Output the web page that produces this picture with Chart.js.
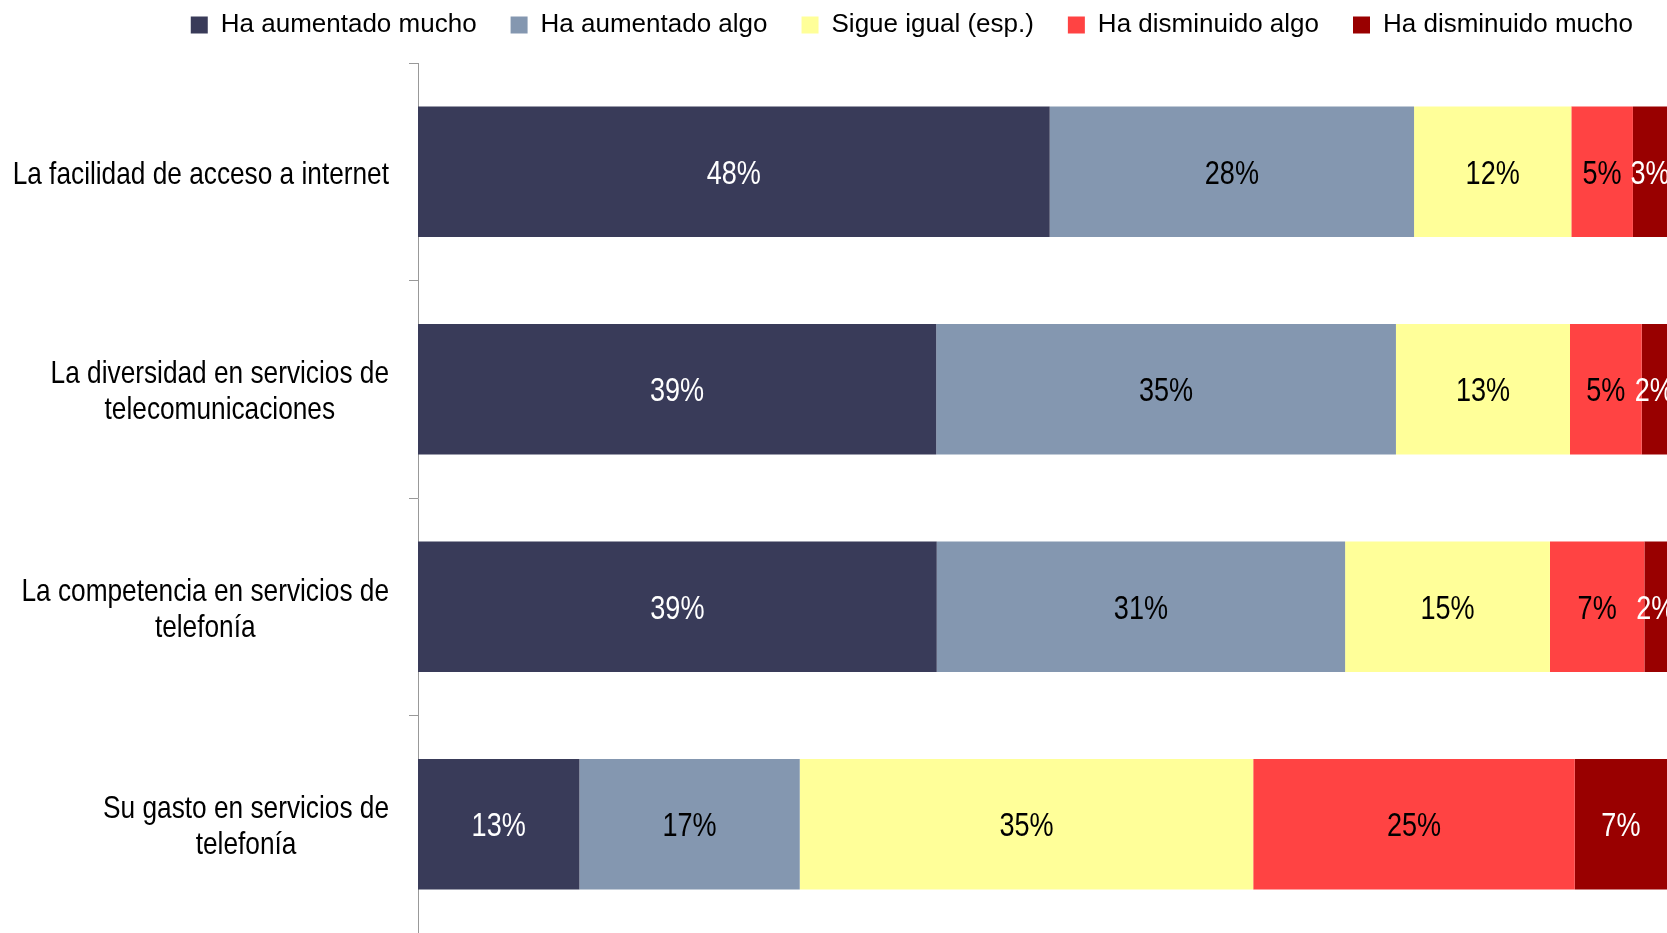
<!DOCTYPE html>
<html>
<head>
<meta charset="utf-8">
<script src="https://cdn.jsdelivr.net/npm/chart.js@4.4.1/dist/chart.umd.min.js"></script>
<style>
  html, body { margin: 0; padding: 0; background: #fff; }
  #wrap { width: 1667px; height: 933px; }
</style>
</head>
<body>
<div id="wrap"><canvas id="chart1"></canvas></div>
<script>
const FONT = "'Liberation Sans', Arial, sans-serif";
const NARROW = 0.82; // Arial Narrow look: squeeze Liberation Sans horizontally

// categories (y axis), one array per label line
const categories = [
    ['La facilidad de acceso a internet'],
    ['La diversidad en servicios de', 'telecomunicaciones'],
    ['La competencia en servicios de', 'telefonía'],
    ['Su gasto en servicios de', 'telefonía']
];

const seriesNames = ['Ha aumentado mucho', 'Ha aumentado algo', 'Sigue igual (esp.)', 'Ha disminuido algo', 'Ha disminuido mucho'];

// values per series (%), in category order
const aumentoMucho = [48.2, 39.0, 39.0, 12.6];
const aumentoAlgo = [27.8, 34.6, 30.7, 17.2];
const sigueIgual = [12.0, 13.1, 15.4, 35.4];
const disminuyeAlgo = [4.7, 5.4, 7.1, 25.1];
const disminuyeMucho = [2.6, 1.9, 1.7, 7.2];

const seriesColors = ['#393B59', '#8497B0', '#FFFF99', '#FF4343', '#990000'];
const labelColors = ['#ffffff', '#000000', '#000000', '#000000', '#ffffff'];

const rawSeries = [aumentoMucho, aumentoAlgo, sigueIgual, disminuyeAlgo, disminuyeMucho];

// 100% stacked: each bar is scaled to its own total
const totals = categories.map((c, i) => rawSeries.reduce((s, arr) => s + arr[i], 0));

const datasets = rawSeries.map((arr, k) => ({
    label: seriesNames[k],
    data: arr.map((v, i) => v * 100 / totals[i]),
    raw: arr,
    backgroundColor: seriesColors[k],
    borderWidth: 0,
    categoryPercentage: 1,
    barPercentage: 0.6
}));

function narrowText(ctx, text, x, y) {
    ctx.save();
    ctx.translate(x, y);
    ctx.scale(NARROW, 1);
    ctx.fillText(text, 0, 0);
    ctx.restore();
}

// value labels inside the bars
const valueLabels = {
    id: 'valueLabels',
    afterDatasetsDraw(chart) {
        const ctx = chart.ctx;
        ctx.save();
        ctx.font = '33px ' + FONT;
        ctx.textAlign = 'center';
        ctx.textBaseline = 'middle';
        chart.data.datasets.forEach((ds, k) => {
            const meta = chart.getDatasetMeta(k);
            meta.data.forEach((bar, i) => {
                const left = Math.min(bar.x, bar.base);
                const w = Math.abs(bar.x - bar.base);
                ctx.fillStyle = labelColors[k];
                narrowText(ctx, Math.round(ds.raw[i]) + '%', left + w / 2, bar.y + 3);
            });
        });
        ctx.restore();
    }
};

// category labels: block right aligned, lines centered inside the block
const categoryLabels = {
    id: 'categoryLabels',
    afterDraw(chart) {
        const ctx = chart.ctx;
        const yScale = chart.scales.y;
        const right = yScale.right - 29;
        const lineH = 36;
        ctx.save();
        ctx.font = '32px ' + FONT;
        ctx.fillStyle = '#000';
        ctx.textAlign = 'center';
        ctx.textBaseline = 'middle';
        categories.forEach((lines, i) => {
            const py = yScale.getPixelForValue(i) + 3;
            const widest = Math.max(...lines.map(t => ctx.measureText(t).width)) * NARROW;
            const cx = right - widest / 2;
            const y0 = py - (lines.length - 1) * lineH / 2;
            lines.forEach((t, j) => narrowText(ctx, t, cx, y0 + j * lineH));
        });
        ctx.restore();
    }
};

// extra room between legend and plot
const legendMargin = {
    id: 'legendMargin',
    beforeInit(chart) {
        const fit = chart.legend.fit;
        chart.legend.fit = function () {
            fit.bind(chart.legend)();
            this.height += 15;
        };
    }
};

const ctx = document.getElementById('chart1').getContext('2d');
const chart = new Chart(ctx, {
    type: 'bar',
    data: {
        labels: categories.map(c => c.join(' ')),
        datasets: datasets
    },
    options: {
        indexAxis: 'y',
        responsive: true,
        maintainAspectRatio: false,
        animation: false,
        layout: { padding: { top: -22, right: 0, bottom: 0, left: 0 } },
        plugins: {
            legend: {
                position: 'top',
                align: 'end',
                labels: {
                    font: { family: FONT, size: 26 },
                    color: '#000',
                    boxWidth: 17,
                    boxHeight: 17,
                    padding: 34
                }
            },
            tooltip: { enabled: false }
        },
        scales: {
            x: {
                stacked: true,
                min: 0,
                max: 100,
                display: false
            },
            y: {
                stacked: true,
                afterFit(scale) { scale.width = 418; },
                ticks: { display: false },
                grid: {
                    offset: true,
                    drawOnChartArea: false,
                    drawTicks: true,
                    tickLength: 9,
                    color: '#999999'
                },
                border: { display: true, color: '#999999', width: 1 }
            }
        }
    },
    plugins: [valueLabels, categoryLabels, legendMargin]
});
</script>
</body>
</html>
